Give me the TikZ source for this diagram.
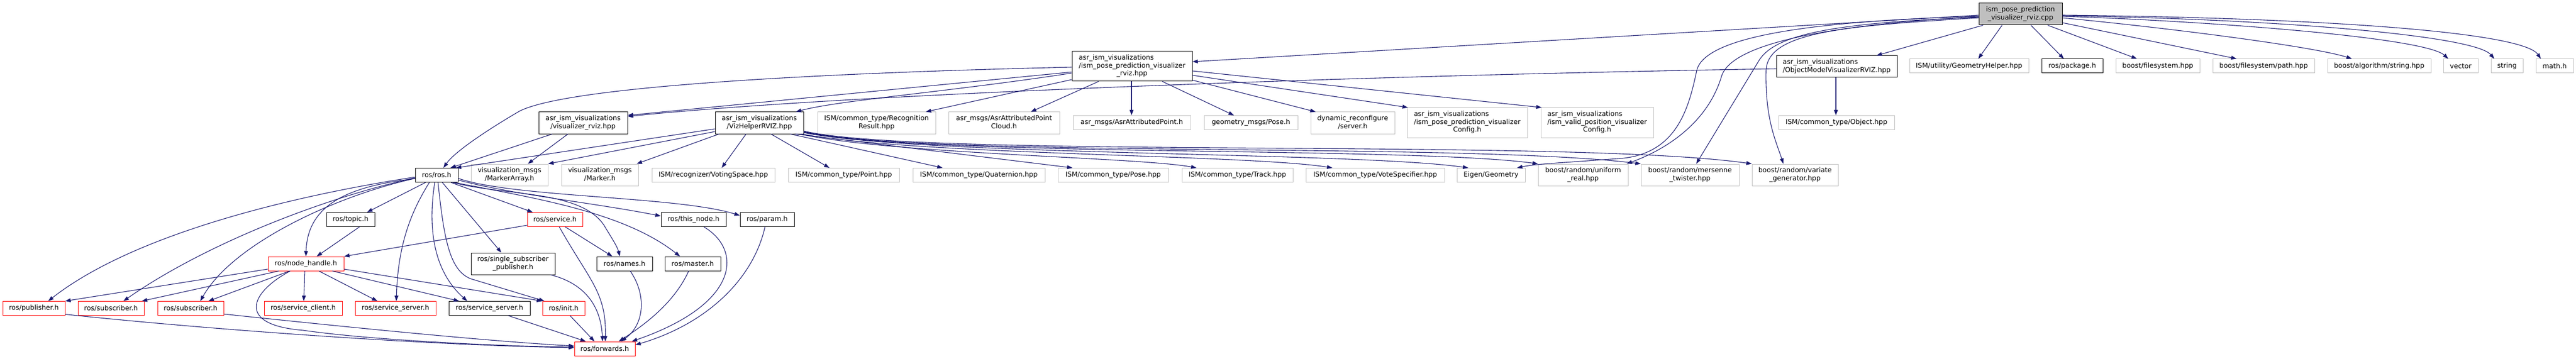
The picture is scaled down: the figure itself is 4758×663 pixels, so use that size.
\documentclass[tikz,border=0pt]{standalone}
\usepackage{fontspec}
\setmainfont{DejaVu Sans}
\usetikzlibrary{arrows.meta,calc}
\definecolor{edgeblue}{HTML}{191970}
\definecolor{grey75}{HTML}{BFBFBF}
\newcommand{\twol}[2]{\begin{tabular}{@{}l@{}}#1\\\multicolumn{1}{@{}c@{}}{#2}\end{tabular}}
\tikzset{
  nb/.style={draw=black, line width=1pt, rectangle, inner sep=0pt, text=black,
             font=\fontsize{12.5}{14.5}\selectfont},
  nr/.style={nb, draw=red},
  ng/.style={nb, draw=grey75},
  nroot/.style={nb, fill=grey75},
  sz/.style 2 args={minimum width=#1pt, minimum height=#2pt},
  dep/.style={draw=edgeblue, line width=1.1pt, -{Triangle[length=10pt,width=7pt]}}
}
\begin{document}
\begin{tikzpicture}[x=1pt,y=-1pt]
\fill[white] (0,0) rectangle (4758,663);
\useasboundingbox (0,0) rectangle (4758,663);

% ---- nodes
\node[nroot,sz={154}{40}] (cpp) at (3732,26) {\twol{ism\_pose\_prediction}{\_visualizer\_rviz.cpp}};
\node[nb,sz={222}{55}] (ppv) at (2091,122.5) {\twol{asr\_ism\_visualizations\\/ism\_pose\_prediction\_visualizer}{\_rviz.hpp}};
\node[nb,sz={223}{40}] (omv) at (3392.5,123) {\twol{asr\_ism\_visualizations}{/ObjectModelVisualizerRVIZ.hpp}};
\node[ng,sz={220}{26}] (geomh) at (3637,122) {ISM/utility/GeometryHelper.hpp};
\node[nb,sz={113}{26}] (pkg) at (3827.5,122) {ros/package.h};
\node[ng,sz={155}{26}] (fs) at (3985.5,122) {boost/filesystem.hpp};
\node[ng,sz={188}{26}] (fsp) at (4181,122) {boost/filesystem/path.hpp};
\node[ng,sz={191}{26}] (alg) at (4394.5,122) {boost/algorithm/string.hpp};
\node[ng,sz={64}{26}] (vec) at (4545,122) {vector};
\node[ng,sz={59}{26}] (str) at (4630.5,122) {string};
\node[ng,sz={69}{26}] (math) at (4718.5,122) {math.h};

\node[ng,sz={222}{55}] (ppcfg) at (2710,226.5) {\twol{asr\_ism\_visualizations\\/ism\_pose\_prediction\_visualizer}{Config.h}};
\node[ng,sz={208}{55}] (vpcfg) at (2950,226.5) {\twol{asr\_ism\_visualizations\\/ism\_valid\_position\_visualizer}{Config.h}};
\node[nb,sz={164}{40}] (vrviz) at (1077,227) {\twol{asr\_ism\_visualizations}{/visualizer\_rviz.hpp}};
\node[nb,sz={163}{40}] (vizh) at (1402.5,227) {\twol{asr\_ism\_visualizations}{/VizHelperRVIZ.hpp}};
\node[ng,sz={218}{40}] (recres) at (1619,227) {\twol{ISM/common\_type/Recognition}{Result.hpp}};
\node[ng,sz={205}{40}] (apc) at (1854.5,227) {\twol{asr\_msgs/AsrAttributedPoint}{Cloud.h}};
\node[ng,sz={155}{40}] (dyn) at (2498.5,227) {\twol{dynamic\_reconfigure}{/server.h}};
\node[ng,sz={217}{26}] (ap) at (2090.5,226.5) {asr\_msgs/AsrAttributedPoint.h};
\node[ng,sz={173}{26}] (gpose) at (2310.5,226.5) {geometry\_msgs/Pose.h};
\node[ng,sz={214}{26}] (obj) at (3392,226.5) {ISM/common\_type/Object.hpp};

\node[ng,sz={142}{40}] (marr) at (941,323) {\twol{visualization\_msgs}{/MarkerArray.h}};
\node[ng,sz={142}{40}] (mark) at (1108,323) {\twol{visualization\_msgs}{/Marker.h}};
\node[ng,sz={166}{40}] (unif) at (2924,323) {\twol{boost/random/uniform}{\_real.hpp}};
\node[ng,sz={181}{40}] (mers) at (3121.5,323) {\twol{boost/random/mersenne}{\_twister.hpp}};
\node[ng,sz={159}{40}] (vari) at (3315.5,323) {\twol{boost/random/variate}{\_generator.hpp}};
\node[nb,sz={79}{26}] (ros) at (806.5,323.5) {ros/ros.h};
\node[ng,sz={227}{26}] (vote) at (1317.5,323.5) {ISM/recognizer/VotingSpace.hpp};
\node[ng,sz={205}{26}] (point) at (1558.5,323.5) {ISM/common\_type/Point.hpp};
\node[ng,sz={244}{26}] (quat) at (1808,323.5) {ISM/common\_type/Quaternion.hpp};
\node[ng,sz={204}{26}] (pose) at (2056,323.5) {ISM/common\_type/Pose.hpp};
\node[ng,sz={205}{26}] (track) at (2285.5,323.5) {ISM/common\_type/Track.hpp};
\node[ng,sz={256}{26}] (votesp) at (2540,323.5) {ISM/common\_type/VoteSpecifier.hpp};
\node[ng,sz={126}{26}] (eigen) at (2754,323.5) {Eigen/Geometry};

\node[nb,sz={89}{26}] (topic) at (647.5,405.5) {ros/topic.h};
\node[nr,sz={102}{26}] (service) at (1025,405.5) {ros/service.h};
\node[nb,sz={120}{26}] (thisnode) at (1281,405.5) {ros/this\_node.h};
\node[nb,sz={100}{26}] (param) at (1417,405.5) {ros/param.h};

\node[nb,sz={155}{40}] (ssp) at (947.5,487) {\twol{ros/single\_subscriber}{\_publisher.h}};
\node[nr,sz={140}{26}] (nh) at (565,487) {ros/node\_handle.h};
\node[nb,sz={103}{26}] (names) at (1153.5,487) {ros/names.h};
\node[nb,sz={103}{26}] (master) at (1279.5,487) {ros/master.h};

\node[nr,sz={115}{26}] (pub) at (62.5,569.5) {ros/publisher.h};
\node[nr,sz={122}{26}] (sub1) at (205,569.5) {ros/subscriber.h};
\node[nr,sz={122}{26}] (sub2) at (352,569.5) {ros/subscriber.h};
\node[nr,sz={144}{26}] (sclient) at (560,569.5) {ros/service\_client.h};
\node[nr,sz={149}{26}] (sserv1) at (730.5,569.5) {ros/service\_server.h};
\node[nb,sz={150}{26}] (sserv2) at (904,569.5) {ros/service\_server.h};
\node[nr,sz={78}{26}] (init) at (1041,569.5) {ros/init.h};
\node[nr,sz={112}{26}] (fwd) at (1117,644) {ros/forwards.h};

% ---- edges from the .cpp
\draw[dep] ([yshift=-2]cpp.west) -- ([yshift=8.5]ppv.east);
\draw[dep] ([xshift=-69]cpp.south) -- ([xshift=73.5]omv.north);
\draw[dep] ([xshift=-34]cpp.south) -- ([xshift=17]geomh.north);
\draw[dep] ([xshift=19]cpp.south) -- ([xshift=-15.5]pkg.north);
\draw[dep] ([xshift=50]cpp.south) -- ([xshift=-38.5]fs.north);
\draw[dep] ([yshift=-16]cpp.east) -- ([xshift=-50]fsp.north);
\draw[dep] ([yshift=-7]cpp.east) .. controls (3990,50) and (4270,85) .. ([xshift=-50.5]alg.north);
\draw[dep] ([yshift=-4]cpp.east) .. controls (4100,40) and (4480,70) .. ([xshift=-23]vec.north);
\draw[dep] ([yshift=-3]cpp.east) .. controls (4200,35) and (4570,65) .. ([xshift=-23.5]str.north);
\draw[dep] ([yshift=-2]cpp.east) .. controls (4300,33) and (4660,60) .. ([xshift=-25.5]math.north);
\draw[dep] ([yshift=-4]cpp.west) .. controls (3380,38) and (3150,62) .. (3134,130)
   .. controls (3120,195) and (3100,280) .. (3000,292)
   .. controls (2900,300) and (2840,302) .. ([xshift=48]eigen.north);
\draw[dep] ([yshift=-5]cpp.west) .. controls (3380,45) and (3200,80) .. (3180,140)
   .. controls (3155,225) and (3080,275) .. ([xshift=-3]unif.north east);
\draw[dep] ([yshift=-6]cpp.west) .. controls (3380,42) and (3280,65) .. (3250,110) -- ([xshift=11.5]mers.north);
\draw[dep] ([yshift=-7]cpp.west) .. controls (3400,48) and (3265,60) .. (3262,130)
   .. controls (3260,220) and (3280,260) .. ([xshift=-21.5]vari.north);

% ---- edges from ism_pose_prediction_visualizer_rviz.hpp
\draw[dep] ([yshift=-1.5]ppv.west) .. controls (1500,135) and (1050,160) .. (960,205)
   .. controls (900,240) and (840,280) .. ([xshift=12.5]ros.north);
\draw[dep] ([yshift=-10.5]ppv.west) -- ([yshift=14]vrviz.east);
\draw[dep] ([yshift=-12.5]ppv.west) .. controls (1750,170) and (1550,185) .. ([xshift=67.5]vizh.north);
\draw[dep] ([yshift=-24.5]ppv.west) -- ([xshift=91]recres.north);
\draw[dep] ([xshift=-62]ppv.south) -- ([xshift=49.5]apc.north);
\draw[dep] ([xshift=-1]ppv.south) -- ([xshift=-0.5]ap.north);
\draw[dep] ([xshift=56]ppv.south) -- ([xshift=-31.5]gpose.north);
\draw[dep] ([yshift=-25.5]ppv.east) -- ([xshift=-68.5]dyn.north);
\draw[dep] ([yshift=-16.5]ppv.east) -- ([xshift=2]ppcfg.north west);
\draw[dep] ([yshift=-8.5]ppv.east) -- ([xshift=2]vpcfg.north west);

% ---- ObjectModelVisualizerRVIZ
\draw[dep] ([yshift=-4]omv.west) .. controls (2600,138) and (1600,170) .. ([yshift=12]vrviz.east);
\draw[dep] ([xshift=-1.5]omv.south) -- ([xshift=-1]obj.north);

% ---- visualizer_rviz
\draw[dep] ([xshift=-57]vrviz.south) -- ([xshift=25.5]ros.north);
\draw[dep] ([xshift=-28]vrviz.south) -- ([xshift=34]marr.north);

% ---- VizHelperRVIZ
\draw[dep] ([yshift=-11]vizh.west) -- ([xshift=35.5]ros.north);
\draw[dep] ([yshift=-16]vizh.west) -- (marr.north east);
\draw[dep] ([xshift=-74.5]vizh.south) -- ([xshift=68]mark.north);
\draw[dep] ([xshift=-24.5]vizh.south) -- ([xshift=15.5]vote.north);
\draw[dep] ([xshift=21.5]vizh.south) -- ([xshift=-26.5]point.north);
\draw[dep] ([xshift=57.5]vizh.south) -- ([xshift=-67]quat.north);
\draw[dep] ([xshift=67.5]vizh.south) -- ([xshift=-75]pose.north);
\draw[dep] ([xshift=75]vizh.south) .. controls (1650,285) and (2100,290) .. ([xshift=-75.5]track.north);
\draw[dep] ([xshift=78]vizh.south) .. controls (1700,287) and (2300,285) .. ([xshift=-79]votesp.north);
\draw[dep] ([yshift=-18]vizh.east) .. controls (1700,288) and (2500,280) .. ([xshift=-42]eigen.north);
\draw[dep] ([yshift=-17]vizh.east) .. controls (1700,290) and (2600,270) .. (unif.north west);
\draw[dep] ([yshift=-16]vizh.east) .. controls (1700,292) and (2700,262) .. (mers.north west);
\draw[dep] ([yshift=-15]vizh.east) .. controls (1700,293) and (2900,255) .. (vari.north west);

% ---- ros/ros.h
\draw[dep] ([xshift=-20.5]ros.south) -- ([xshift=30.5]topic.north);
\draw[dep] ([yshift=-6.5]ros.west) .. controls (630,345) and (568,385) .. (nh.north);
\draw[dep] ([yshift=-3.5]ros.west) .. controls (550,360) and (250,430) .. ([xshift=26.5]pub.north);
\draw[dep] ([yshift=-5]ros.west) .. controls (600,365) and (380,450) .. ([xshift=23]sub1.north);
\draw[dep] ([yshift=-6]ros.west) .. controls (620,362) and (430,450) .. ([xshift=18]sub2.north);
\draw[dep] ([xshift=-13.5]ros.south) .. controls (760,390) and (735,450) .. ([xshift=1.5]sserv1.north);
\draw[dep] ([xshift=-3.5]ros.south) .. controls (790,420) and (800,500) .. ([xshift=-41]sserv2.north);
\draw[dep] ([xshift=2.5]ros.south) .. controls (820,440) and (830,500) .. (870,515) -- ([xshift=4]init.north west);
\draw[dep] ([xshift=10.5]ros.south) -- ([xshift=-21.5]ssp.north);
\draw[dep] ([xshift=26.5]ros.south) -- ([xshift=-41]service.north);
\draw[dep] ([xshift=30]ros.south) .. controls (930,362) and (1070,350) .. (1115,415)
   .. controls (1130,440) and (1140,455) .. ([xshift=-8.5]names.north);
\draw[dep] ([xshift=33]ros.south) .. controls (980,365) and (1150,390) .. ([xshift=-23.5]master.north);
\draw[dep] ([yshift=-9]ros.east) .. controls (950,360) and (1100,375) .. ([yshift=6.5]thisnode.west);
\draw[dep] ([yshift=-6]ros.east) .. controls (950,365) and (1250,362) .. ([yshift=7.5]param.west);

% ---- ros/node_handle.h
\draw[dep] ([yshift=-10]nh.west) -- (pub.north east);
\draw[dep] ([xshift=-50]nh.south) -- ([xshift=57]sub1.north);
\draw[dep] ([xshift=-30]nh.south) -- ([xshift=33]sub2.north);
\draw[dep] ([xshift=-2]nh.south) -- ([xshift=1]sclient.north);
\draw[dep] ([xshift=24]nh.south) -- ([xshift=-33.5]sserv1.north);
\draw[dep] ([xshift=49]nh.south) -- ([xshift=-56]sserv2.north);
\draw[dep] ([yshift=-10]nh.east) -- (init.north west);
\draw[dep] ([xshift=-29]nh.south) .. controls (462,540) and (435,600) .. (560,610)
   .. controls (700,630) and (950,640) .. ([yshift=3]fwd.west);

% ---- others
\draw[dep] ([xshift=16.5]topic.south) -- ([xshift=20]nh.north);
\draw[dep] ([yshift=-10.5]service.west) -- (nh.north east);
\draw[dep] ([xshift=19]service.south) -- ([xshift=-22.5]names.north);
\draw[dep] ([xshift=8]service.south) .. controls (1090,520) and (1120,540) .. ([xshift=1]fwd.north);
\draw[dep] ([xshift=69.5]ssp.south) .. controls (1085,525) and (1110,570) .. ([xshift=-4]fwd.north);
\draw[dep] ([xshift=10.5]names.south) .. controls (1195,545) and (1190,600) .. ([xshift=30]fwd.north);
\draw[dep] ([xshift=-7.5]master.south) .. controls (1245,560) and (1190,600) .. ([xshift=26]fwd.north);
\draw[dep] ([xshift=19]thisnode.south) .. controls (1370,460) and (1370,560) .. ([xshift=50]fwd.north);
\draw[dep] ([xshift=-4]param.south) .. controls (1390,520) and (1300,600) .. ([yshift=7]fwd.east);
\draw[dep] ([yshift=-11]pub.east) .. controls (400,610) and (800,638) .. ([yshift=2]fwd.west);
\draw[dep] ([yshift=-10.5]sub2.east) .. controls (650,605) and (900,630) .. ([yshift=5]fwd.west);
\draw[dep] ([xshift=35]sserv2.south) -- ([xshift=-35]fwd.north);
\draw[dep] ([xshift=12]init.south) -- ([xshift=-19]fwd.north);
\end{tikzpicture}
\end{document}
